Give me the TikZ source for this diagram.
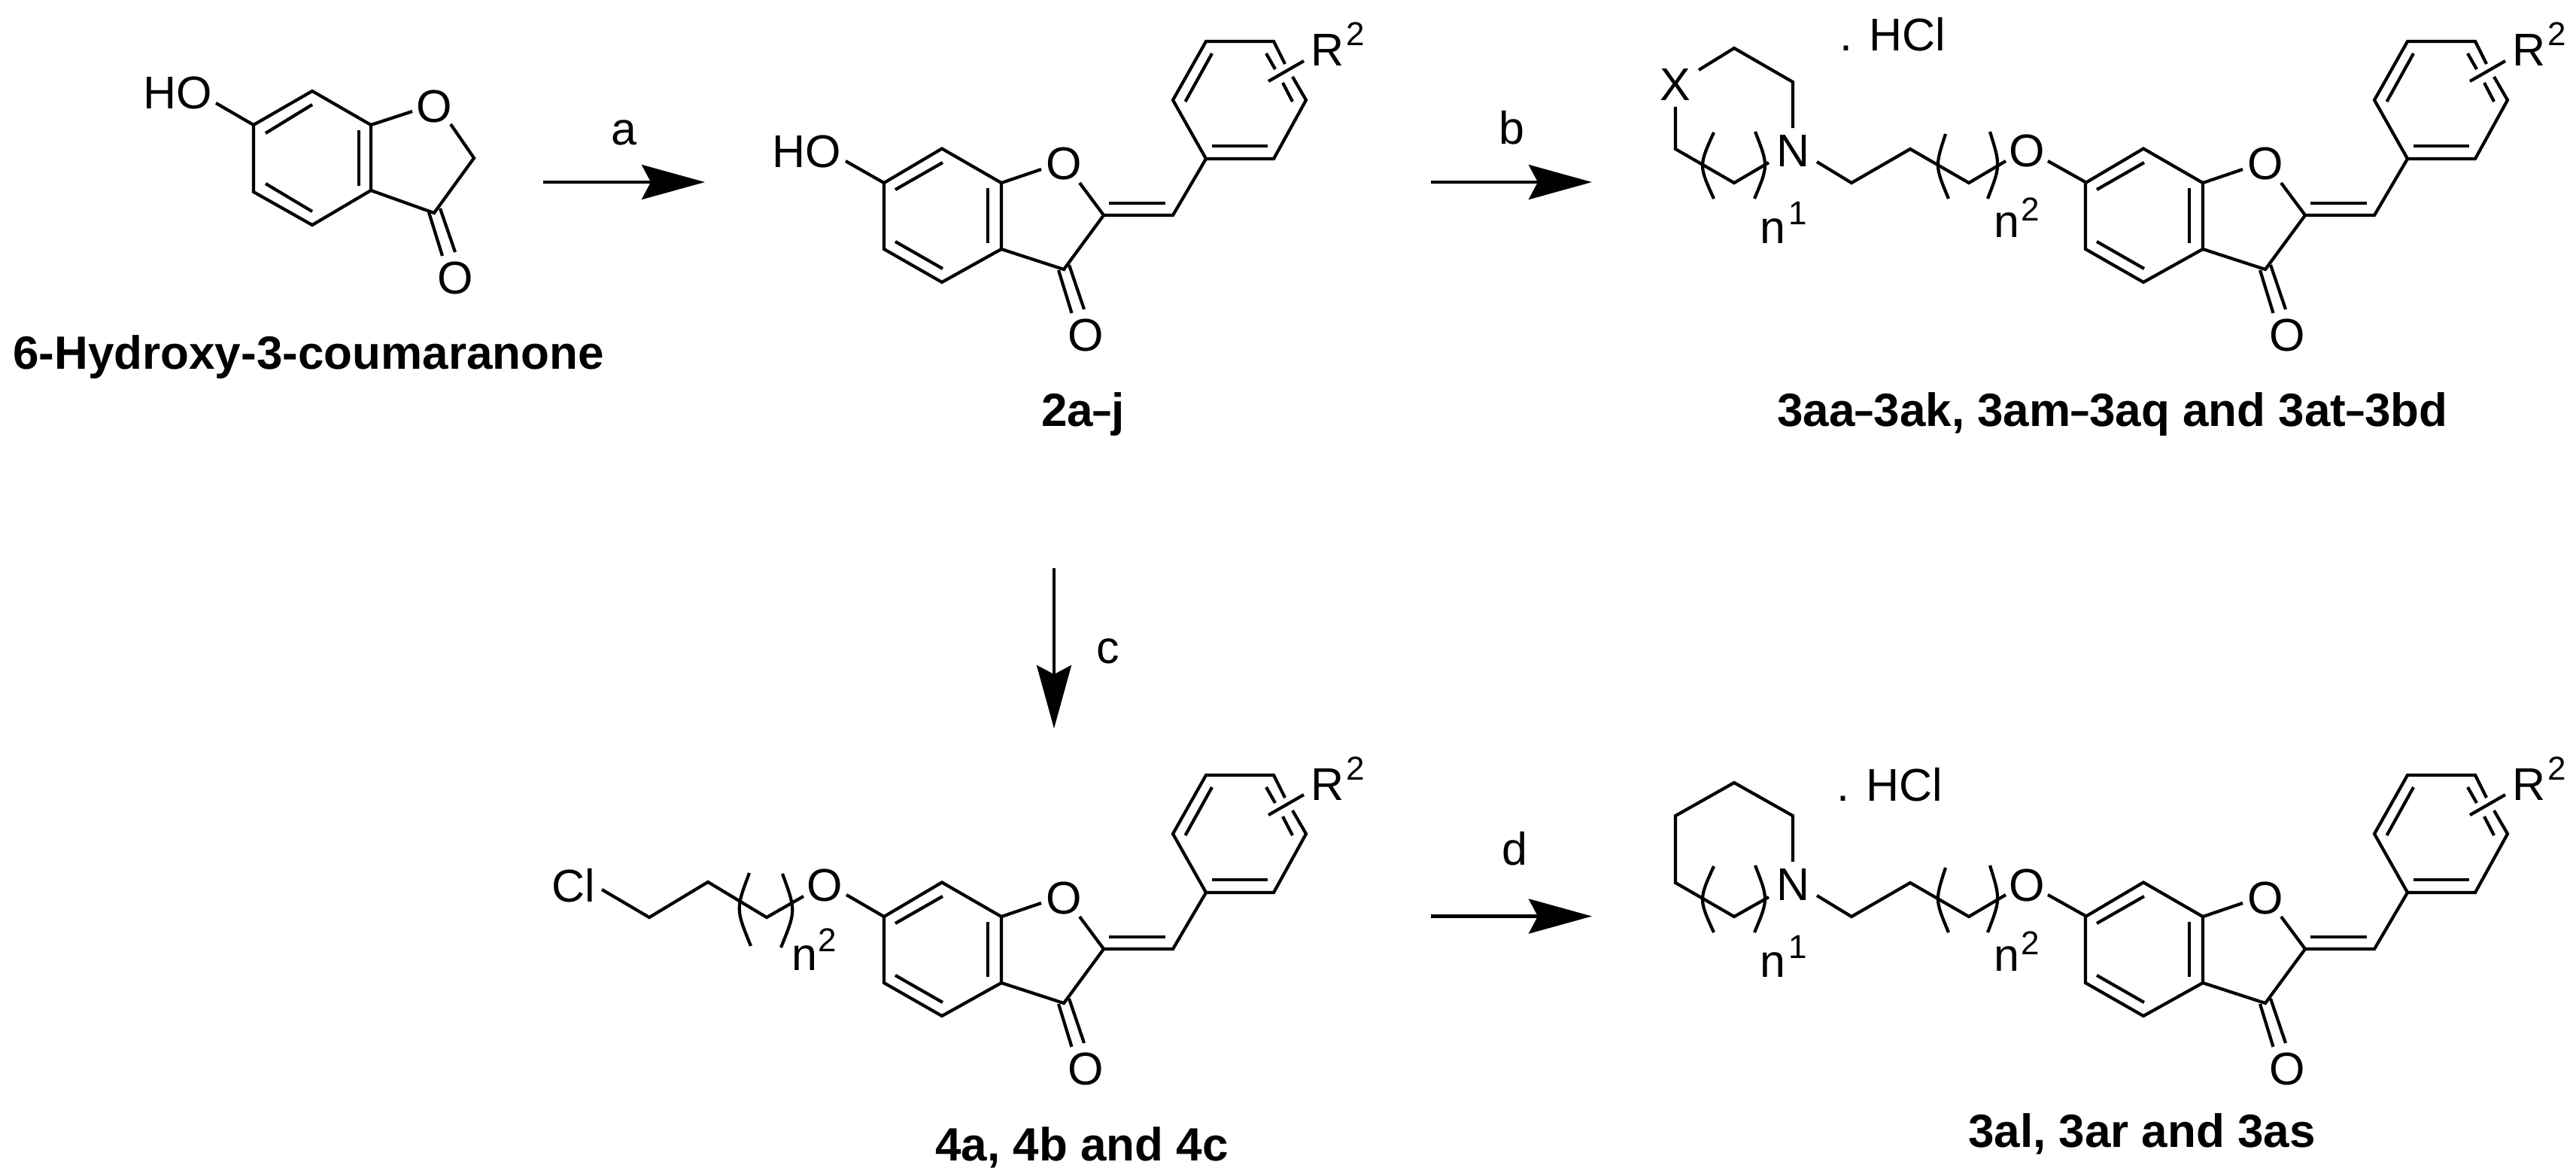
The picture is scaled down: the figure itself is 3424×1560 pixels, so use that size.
\documentclass[tikz,border=0pt]{standalone}
\usepackage{fontspec}
\setmainfont{Liberation Sans}
\usetikzlibrary{arrows.meta}
\newcommand{\shdash}{\resizebox{0.72\width}{\height}{–}}
\tikzset{
  bond/.style={line width=4.2pt,line join=miter,line cap=butt,black},
  rxn/.style={line width=4.5pt,black,-{Stealth[length=84pt,width=46pt,inset=12pt]}},
  atom/.style={inner sep=0pt,font=\fontsize{61}{61}\selectfont},
  atomb/.style={atom,anchor=base west},
  supr/.style={inner sep=0pt,anchor=base west,font=\fontsize{44}{44}\selectfont},
  cmpd/.style={inner sep=0pt,anchor=base,font=\fontsize{62}{64}\selectfont\bfseries},
}
% benzofuranone core with benzylidene ring, coordinates of compound 2
\newcommand{\auronecore}[3]{%
\begin{scope}[shift={(#2,#3)}]
  \node[atom] (#1-O) at (1414,218) {O};
  \node[atom] (#1-Ok) at (1443,445) {O};
  \node[atomb] (#1-R) at (1742,88) {R};
  \node[supr] (#1-Rs) at (1789,61) {2};
  \draw[bond] (1175,243) -- (1252,197.5) -- (1331,243) -- (1331,331) -- (1252,375) -- (1175,331) -- cycle;
  \draw[bond] (1190,252) -- (1253,216);
  \draw[bond] (1313,250) -- (1313,323);
  \draw[bond] (1190,321) -- (1253,357);
  \draw[bond] (1331,243) -- (1384,225);
  \draw[bond] (1435,243) -- (1467,286) -- (1414,358) -- (1331,331);
  \draw[bond] (1407,359) -- (1424.5,416);
  \draw[bond] (1421,352) -- (1441,411);
  \draw[bond] (1467,286) -- (1559,286) -- (1603,211);
  \draw[bond] (1474,270) -- (1549,270);
  \draw[bond] (1708,85) -- (1693,55) -- (1603,55) -- (1559,133) -- (1603,211) -- (1693,211) -- (1736,133) -- (1718,102);
  \draw[bond] (1611,71) -- (1575.5,135);
  \draw[bond] (1611,194) -- (1685,194);
  \draw[bond] (1683,71) -- (1695,92);
  \draw[bond] (1705,110) -- (1718,135);
  \draw[bond] (1686,108) -- (1733,81);
\end{scope}}
% amine-alkoxy chain of compounds 3 (N at its place, to the benzofuranone C6)
\newcommand{\aminechain}[2]{%
\begin{scope}[shift={(0,#2)}]
  \node[atom] (#1-N) at (2383,201) {N};
  \node[atom] (#1-Oe) at (2694,201) {O};
  \node[atomb] (#1-n) at (2339,323) {n};
  \node[supr] (#1-ns) at (2377,298) {1};
  \node[atomb] (#1-m) at (2650,315) {n};
  \node[supr] (#1-ms) at (2686,293) {2};
  \draw[bond] (2415,215) -- (2461,243) -- (2539,198) -- (2617,243) -- (2666,214);
  \draw[bond] (2722,214) -- (2772,242);
  \draw[bond] (2278,176) .. controls (2258,220) .. (2278,264);
  \draw[bond] (2333,175) .. controls (2350.5,220) .. (2332,264);
  \draw[bond] (2586,178) .. controls (2572,221) .. (2590,264);
  \draw[bond] (2645,175) .. controls (2659,220) .. (2642,264);
\end{scope}}
\begin{document}
\begin{tikzpicture}[x=1pt,y=-1pt]
\useasboundingbox (0,0) rectangle (3424,1560);
% compound 1
\node[atomb] (ho1) at (190,145) {HO};
\node[atom] (o1) at (577,142) {O};
\node[atom] (ok1) at (605,369) {O};
\draw[bond] (337,166) -- (415,121) -- (493,166) -- (493,253) -- (415,299) -- (337,255) -- cycle;
\draw[bond] (353,177) -- (415,139);
\draw[bond] (477,173) -- (477,247);
\draw[bond] (353,244) -- (415,281);
\draw[bond] (287,137) -- (337,166);
\draw[bond] (493,166) -- (548,148);
\draw[bond] (599,165) -- (630,210) -- (577,283) -- (493,253);
\draw[bond] (570,282) -- (588,340);
\draw[bond] (585,277) -- (605,335);
\node[cmpd] (l1) at (410,490) {6-Hydroxy-3-coumaranone};
% compound 2
\auronecore{two}{0}{0}
\node[atomb] (ho2) at (1026,222) {HO};
\draw[bond] (1124,214) -- (1175,243);
\node[cmpd] (l2) at (1439.5,566) {2a\shdash j};
% compound 3 top
\auronecore{three}{1597}{0}
\aminechain{three}{0}
\node[atom] (x) at (2227,113) {X};
\node[atomb] (hcl1) at (2445,68) {. HCl};
\draw[bond] (2258,93) -- (2305,64) -- (2383,109) -- (2383,170);
\draw[bond] (2227,142) -- (2227,198) -- (2305,243) -- (2351,216);
\node[cmpd] (l3) at (2808,566) {3aa\shdash 3ak, 3am\shdash 3aq and 3at\shdash 3bd};
% compound 4
\auronecore{four}{0}{975}
\node[atomb] (cl) at (733,1198) {Cl};
\node[atom] (oe4) at (1096,1176) {O};
\node[atomb] (n4) at (1052,1289) {n};
\node[supr] (n4s) at (1087,1264) {2};
\draw[bond] (800,1182) -- (863,1219) -- (941,1172) -- (1019,1219) -- (1068,1191);
\draw[bond] (1125,1189) -- (1175,1218);
\draw[bond] (996,1160) .. controls (978,1208) .. (998,1257);
\draw[bond] (1040,1161) .. controls (1058,1210) .. (1038,1259);
\node[cmpd] (l4) at (1438,1542) {4a, 4b and 4c};
% compound 3 bottom
\auronecore{five}{1597}{975}
\aminechain{five}{975}
\node[atomb] (hcl2) at (2441,1064) {. HCl};
\draw[bond] (2351,1192) -- (2305,1218) -- (2227,1173) -- (2227,1084) -- (2305,1040) -- (2383,1084) -- (2383,1145);
\node[cmpd] (l5) at (2847,1524) {3al, 3ar and 3as};
% reaction arrows
\coordinate (a1) at (722,242); \coordinate (a2) at (937,242);
\coordinate (b1) at (1902,242); \coordinate (b2) at (2116,242);
\coordinate (c1) at (1401,755); \coordinate (c2) at (1401,968);
\coordinate (d1) at (1902,1217.5); \coordinate (d2) at (2116,1217.5);
\draw[rxn] (a1) -- (a2);
\draw[rxn] (b1) -- (b2);
\draw[rxn] (c1) -- (c2);
\draw[rxn] (d1) -- (d2);
\node[atom,anchor=base] (la) at (829,192) {a};
\node[atom,anchor=base] (lb) at (2009,191) {b};
\node[atom,anchor=base] (lc) at (1473,881) {c};
\node[atom,anchor=base] (ld) at (2013,1149) {d};
\end{tikzpicture}
\end{document}
